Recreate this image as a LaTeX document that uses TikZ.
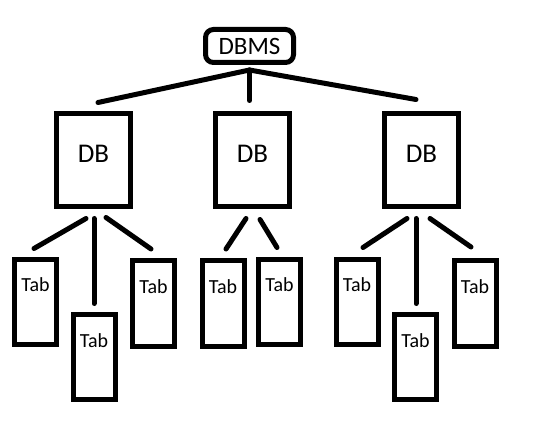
\documentclass[tikz,border=0pt]{standalone}
\usepackage{fontspec}
\setmainfont{Carlito}
\usetikzlibrary{positioning}
\newlength{\tabwidth}
\setlength{\tabwidth}{42pt}
\newlength{\tabheight}
\setlength{\tabheight}{85pt}
\tikzstyle{root} = [rectangle, rounded corners=8pt, draw, line width=5pt, minimum width=88pt, minimum height=33pt, inner sep=0pt, text height=17pt, text depth=0pt, font=\fontsize{25}{25}\selectfont]
\tikzstyle{dbbox} = [rectangle, draw, line width=5pt, minimum width=74pt, minimum height=93pt, inner sep=0pt, text height=49.5pt, text depth=43.5pt, font=\fontsize{27}{27}\selectfont]
\tikzstyle{tabbox} = [rectangle, draw, line width=5pt, minimum width=\tabwidth, minimum height=\tabheight, inner sep=0pt, text height=32.5pt, text depth=52.5pt, font=\fontsize{20}{20}\selectfont]
\tikzstyle{link} = [line width=5pt, line cap=round]

\begin{document}
\begin{tikzpicture}[node distance=114pt]
    \useasboundingbox (0,0) rectangle (546pt,-430pt);

    % Top
    \node (dbms) [root] at (249.5pt,-46pt) {DBMS};

    % Databases
    \node (db2) [dbbox, below of=dbms, xshift=3pt] {DB};
    \node (db1) [dbbox, left of=db2, xshift=-45pt] {DB};
    \node (db3) [dbbox, right of=db2, xshift=55pt] {DB};

    % Tables
    \node (tab11) [tabbox, below of=db1, xshift=-58pt, yshift=-28pt] {Tab};
    \node (tab12) [tabbox, below of=db1, xshift=0.5pt, yshift=-83pt] {Tab};
    \node (tab13) [tabbox, below of=db1, xshift=60pt, yshift=-29.5pt] {Tab};
    \node (tab21) [tabbox, below of=db2, xshift=-29.5pt, yshift=-29.5pt] {Tab};
    \node (tab22) [tabbox, below of=db2, xshift=27pt, yshift=-28pt] {Tab};
    \node (tab31) [tabbox, below of=db3, xshift=-64.5pt, yshift=-28pt] {Tab};
    \node (tab32) [tabbox, below of=db3, xshift=-6pt, yshift=-83pt] {Tab};
    \node (tab33) [tabbox, below of=db3, xshift=53.5pt, yshift=-29.5pt] {Tab};

    % ==== Lines
    % DBMS to DB
    \draw [link] ([yshift=-5pt]dbms.south) -- ([shift={(4.5pt,8.5pt)}]db1.north);
    \draw [link] ([yshift=-5pt]dbms.south) -- ([shift={(-3pt,10.5pt)}]db2.north);
    \draw [link] ([yshift=-5pt]dbms.south) -- ([shift={(-5.5pt,11.5pt)}]db3.north);

    % DB to Tab
    \draw [link] ([shift={(-7.5pt,-9.5pt)}]db1.south) -- ([shift={(-1.5pt,8.5pt)}]tab11.north);
    \draw [link] ([shift={(0.5pt,-9.5pt)}]db1.south) -- ([shift={(0pt,8.5pt)}]tab12.north);
    \draw [link] ([shift={(12.5pt,-8.5pt)}]db1.south) -- ([shift={(-2.5pt,9.5pt)}]tab13.north);
    \draw [link] ([shift={(-6.5pt,-9.5pt)}]db2.south) -- ([shift={(3pt,9.5pt)}]tab21.north);
    \draw [link] ([shift={(7.5pt,-10.5pt)}]db2.south) -- ([shift={(-2.5pt,9.5pt)}]tab22.north);
    \draw [link] ([shift={(-14.5pt,-9.5pt)}]db3.south) -- ([shift={(6pt,9.5pt)}]tab31.north);
    \draw [link] ([shift={(-5.5pt,-9.5pt)}]db3.south) -- ([shift={(0.5pt,8.5pt)}]tab32.north);
    \draw [link] ([shift={(8.5pt,-9.5pt)}]db3.south) -- ([shift={(-4pt,11.5pt)}]tab33.north);

\end{tikzpicture}
\end{document}
